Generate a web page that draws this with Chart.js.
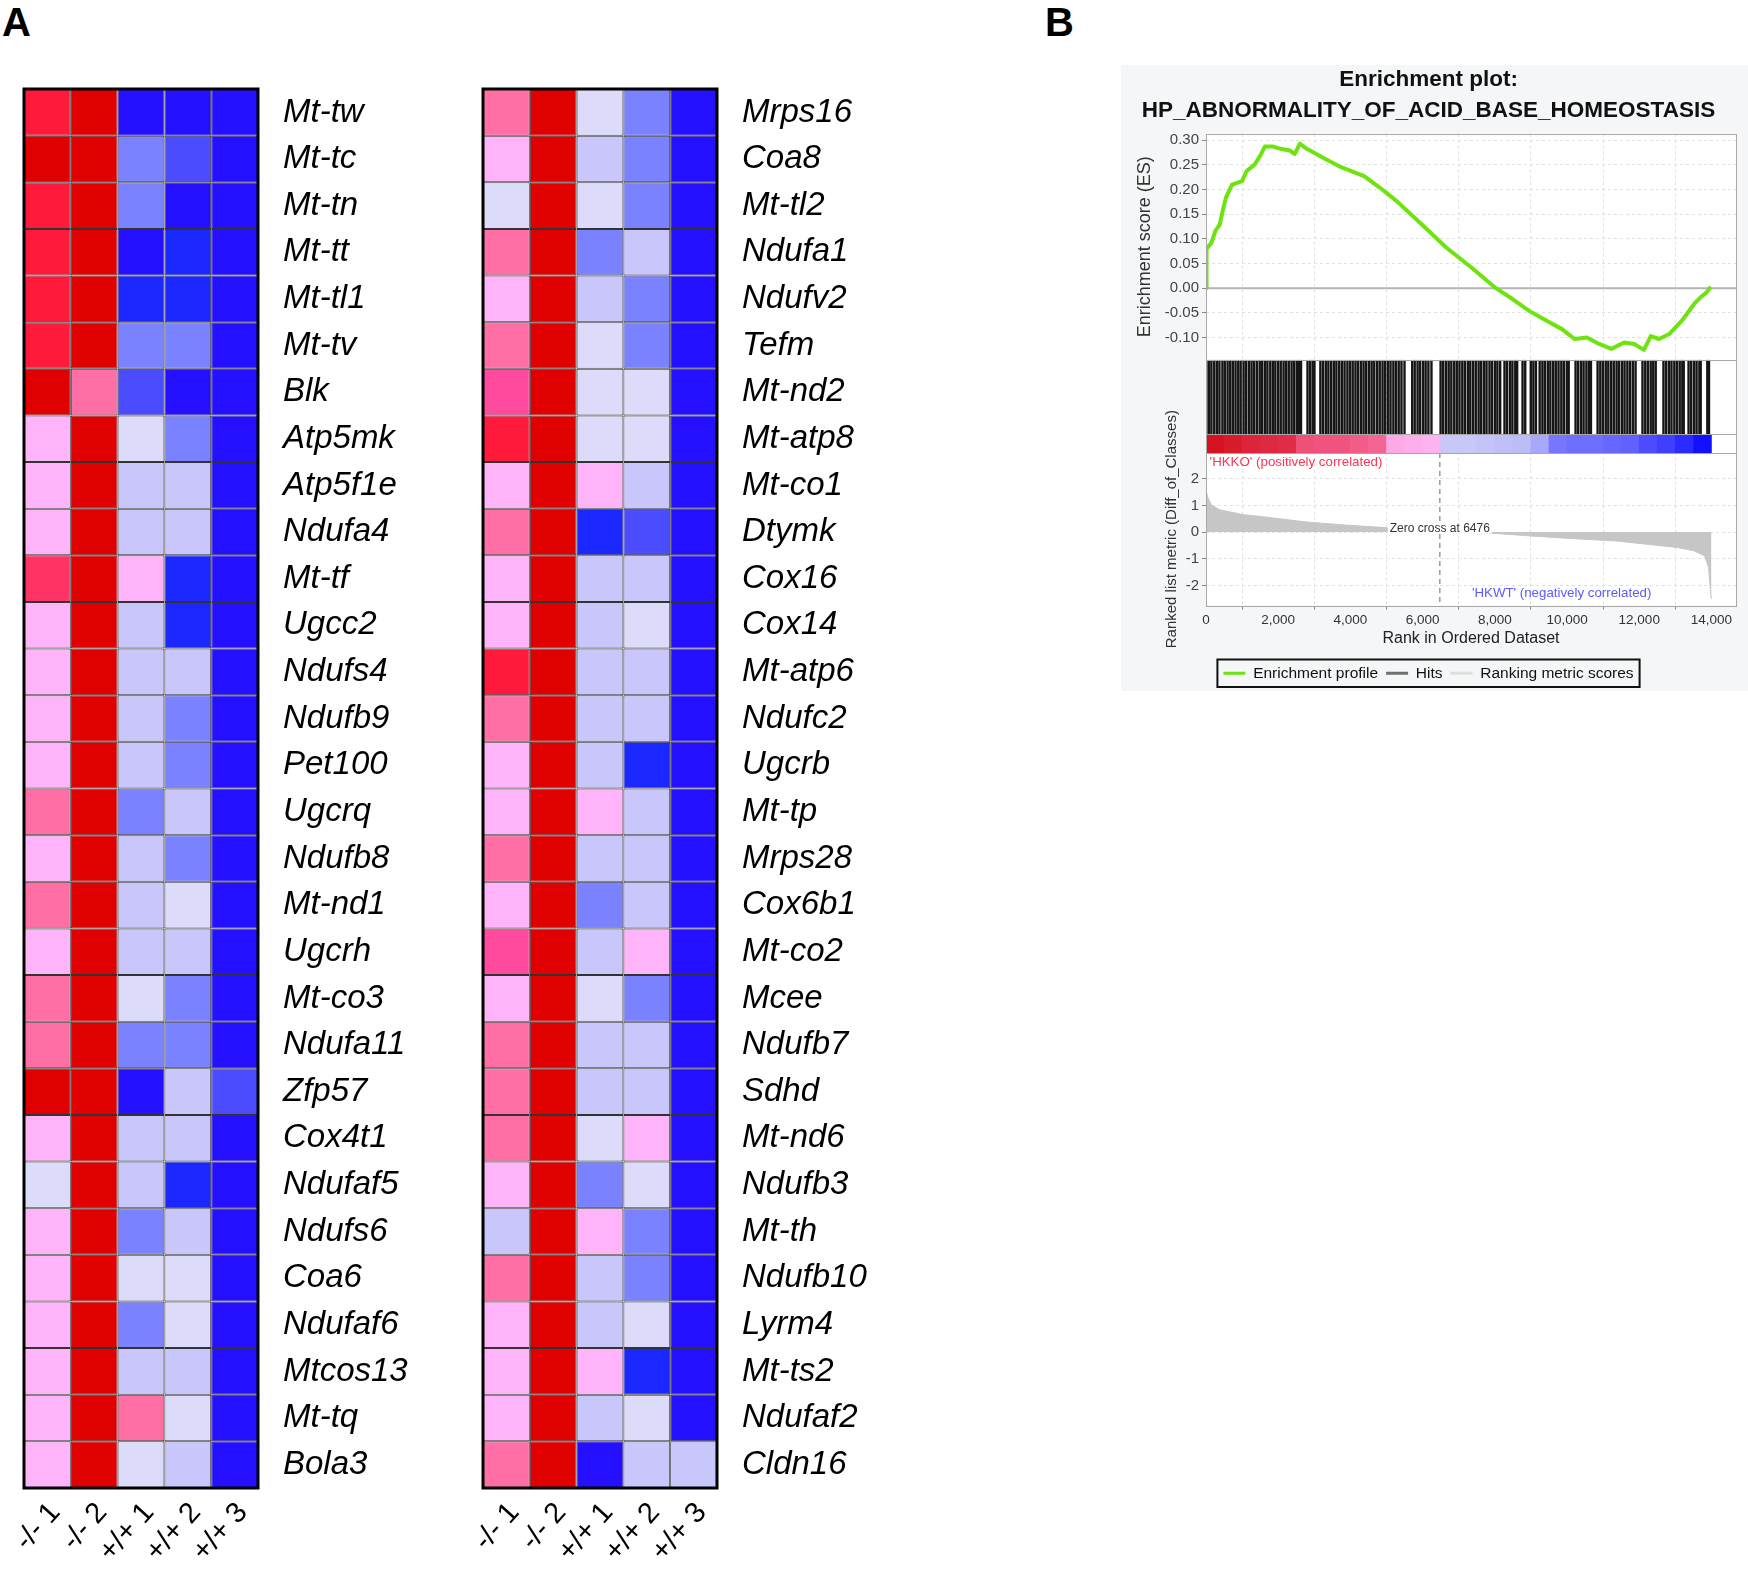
<!DOCTYPE html>
<html lang="en">
<head>
<meta charset="utf-8"/>
<meta name="viewport" content="width=device-width, initial-scale=1">
<title>Heatmap and enrichment plot</title>
<script src="https://cdn.jsdelivr.net/npm/chart.js"></script>
<style>
  body { margin: 0; background: #fff; font-family: 'Liberation Sans', Arial, sans-serif; }
  .page { position: relative; width: 1748px; height: 1576px; overflow: hidden; }
  .tag { position: absolute; top: 2px; font-size: 40px; line-height: 1; font-weight: bold; }
  canvas { position: absolute; }
  #heatLeft { left: 0; top: 0; }
  #heatRight { left: 459px; top: 0; }
  #gsea { left: 1121px; top: 65px; background: #f4f6f7; }
</style>
</head>
<body>
<div class="page">
  <div class="tag" style="left:2px">A</div>
  <div class="tag" style="left:1045px">B</div>
  <canvas id="heatLeft" width="455" height="1576"></canvas>
  <canvas id="heatRight" width="470" height="1576"></canvas>
  <canvas id="gsea" width="627" height="626"></canvas>
</div>
<script>
const FONT = "'Liberation Sans', Arial, sans-serif";

// ---- panel A: heatmap data (row z-scores) ----
const sampleLabels = ['-/- 1', '-/- 2', '+/+ 1', '+/+ 2', '+/+ 3'];

const leftGenes = ['Mt-tw', 'Mt-tc', 'Mt-tn', 'Mt-tt', 'Mt-tl1', 'Mt-tv', 'Blk', 'Atp5mk', 'Atp5f1e', 'Ndufa4',
  'Mt-tf', 'Ugcc2', 'Ndufs4', 'Ndufb9', 'Pet100', 'Ugcrq', 'Ndufb8', 'Mt-nd1', 'Ugcrh', 'Mt-co3',
  'Ndufa11', 'Zfp57', 'Cox4t1', 'Ndufaf5', 'Ndufs6', 'Coa6', 'Ndufaf6', 'Mtcos13', 'Mt-tq', 'Bola3'];
const leftKO1 = [2.1, 2.7, 2.2, 2.1, 2.2, 2.0, 2.8, 0.4, 0.3, 0.4, 1.7, 0.3, 0.4, 0.3, 0.4,
  1.0, 0.4, 1.1, 0.3, 1.0, 0.9, 2.9, 0.4, -0.2, 0.3, 0.4, 0.3, 0.4, 0.3, 0.4];
const leftKO2 = [3.1, 2.9, 3.0, 3.0, 2.9, 3.0, 1.0, 2.9, 3.0, 3.1, 2.9, 3.0, 3.0, 2.9, 3.0,
  3.1, 3.0, 2.9, 3.0, 3.0, 2.9, 2.8, 3.0, 3.0, 2.9, 3.0, 3.1, 3.0, 2.9, 3.0];
const leftWT1 = [-2.8, -1.3, -1.4, -2.9, -2.3, -1.3, -1.8, -0.3, -0.7, -0.7, 0.4, -0.8, -0.7, -0.7, -0.8,
  -1.3, -0.7, -0.8, -0.7, -0.3, -1.3, -2.9, -0.7, -0.8, -1.3, -0.3, -1.4, -0.7, 1.0, -0.3];
const leftWT2 = [-2.8, -1.8, -2.8, -2.3, -2.3, -1.3, -2.9, -1.3, -0.7, -0.7, -2.3, -2.4, -0.7, -1.3, -1.3,
  -0.8, -1.3, -0.3, -0.7, -1.3, -1.3, -0.7, -0.8, -2.3, -0.7, -0.3, -0.3, -0.8, -0.3, -0.7];
const leftWT3 = [-3.0, -3.0, -3.0, -3.0, -3.0, -3.0, -3.0, -3.0, -3.0, -3.0, -3.0, -3.0, -3.0, -3.0, -3.0,
  -3.0, -3.0, -3.0, -3.0, -3.0, -3.0, -1.8, -3.0, -3.0, -3.0, -3.0, -3.0, -3.0, -3.0, -3.0];

const rightGenes = ['Mrps16', 'Coa8', 'Mt-tl2', 'Ndufa1', 'Ndufv2', 'Tefm', 'Mt-nd2', 'Mt-atp8', 'Mt-co1', 'Dtymk',
  'Cox16', 'Cox14', 'Mt-atp6', 'Ndufc2', 'Ugcrb', 'Mt-tp', 'Mrps28', 'Cox6b1', 'Mt-co2', 'Mcee',
  'Ndufb7', 'Sdhd', 'Mt-nd6', 'Ndufb3', 'Mt-th', 'Ndufb10', 'Lyrm4', 'Mt-ts2', 'Ndufaf2', 'Cldn16'];
const rightKO1 = [1.0, 0.4, -0.3, 1.0, 0.3, 1.1, 1.4, 2.1, 0.4, 1.0, 0.3, 0.4, 2.0, 1.0, 0.4,
  0.3, 1.0, 0.4, 1.5, 0.4, 1.0, 1.1, 1.0, 0.3, -0.7, 1.0, 0.4, 0.3, 0.4, 1.0];
const rightKO2 = [3.0, 3.1, 2.9, 3.0, 3.0, 2.9, 3.0, 3.1, 3.0, 2.9, 3.0, 3.0, 2.9, 3.0, 3.1,
  3.0, 2.9, 3.0, 3.0, 3.1, 3.0, 2.9, 3.0, 3.0, 3.1, 3.0, 2.9, 3.0, 3.0, 2.9];
const rightWT1 = [-0.3, -0.7, -0.3, -1.3, -0.7, -0.3, -0.3, -0.3, 0.4, -2.3, -0.7, -0.8, -0.7, -0.7, -0.7,
  0.4, -0.7, -1.3, -0.7, -0.3, -0.7, -0.8, -0.3, -1.3, 0.4, -0.7, -0.7, 0.3, -0.7, -2.9];
const rightWT2 = [-1.3, -1.3, -1.3, -0.7, -1.3, -1.3, -0.3, -0.3, -0.7, -1.8, -0.7, -0.3, -0.7, -0.7, -2.3,
  -0.7, -0.7, -0.7, 0.4, -1.3, -0.7, -0.7, 0.4, -0.3, -1.3, -1.3, -0.3, -2.3, -0.3, -0.7];
const rightWT3 = [-3.0, -3.0, -3.0, -3.0, -3.0, -3.0, -3.0, -3.0, -3.0, -3.0, -3.0, -3.0, -3.0, -3.0, -3.0,
  -3.0, -3.0, -3.0, -3.0, -3.0, -3.0, -3.0, -3.0, -3.0, -3.0, -3.0, -3.0, -3.0, -3.0, -0.7];

// ---- panel B: GSEA running score, hits and ranked list ----
const esRank = [0, 15, 150, 260, 380, 470, 550, 720, 1000, 1120, 1350, 1520, 1630, 1860, 2090, 2320, 2460, 2600,
  2780, 3230, 3690, 4380, 4830, 5290, 5980, 6660, 7350, 8030, 8490, 8950, 9410, 9860, 10210, 10550, 10890,
  11230, 11580, 11860, 12130, 12320, 12550, 12830, 13180, 13520, 13690, 13860, 13980];
const esScore = [0, 0.08, 0.092, 0.116, 0.129, 0.159, 0.183, 0.21, 0.217, 0.237, 0.251, 0.271, 0.287, 0.287,
  0.282, 0.279, 0.272, 0.293, 0.283, 0.265, 0.247, 0.227, 0.203, 0.176, 0.129, 0.082, 0.042, 0.0, -0.022,
  -0.046, -0.065, -0.083, -0.103, -0.1, -0.113, -0.123, -0.11, -0.113, -0.125, -0.097, -0.103, -0.093,
  -0.066, -0.032, -0.019, -0.009, 0.003];

// rank of each gene-set member in the ordered list
const hitRanks = [12, 85, 150, 228, 301, 372, 455, 520, 598, 671, 742, 818, 893, 960, 1041, 1112, 1190,
  1262, 1335, 1411, 1488, 1555, 1633, 1701, 1780, 1852, 1921, 1999, 2070, 2148, 2219, 2292, 2370, 2441,
  2515, 2580, 2632, 2812, 2884, 2955, 3004, 3168, 3240, 3318, 3390, 3466, 3541, 3612, 3690, 3764, 3838,
  3917, 3990, 4063, 4140, 4212, 4290, 4364, 4437, 4515, 4588, 4660, 4741, 4812, 4890, 4963, 5040, 5111,
  5190, 5262, 5338, 5414, 5498, 5712, 5781, 5860, 5930, 6012, 6083, 6160, 6245, 6498, 6570, 6648, 6722,
  6795, 6874, 6946, 7021, 7099, 7170, 7252, 7320, 7398, 7472, 7551, 7622, 7701, 7770, 7852, 7921, 8003,
  8071, 8148, 8268, 8336, 8418, 8487, 8566, 8618, 8768, 8842, 8996, 9068, 9138, 9242, 9318, 9386, 9467,
  9538, 9617, 9688, 9764, 9842, 9911, 9993, 10046, 10236, 10308, 10387, 10458, 10537, 10608, 10662,
  10846, 10921, 10993, 11072, 11143, 11221, 11294, 11372, 11441, 11522, 11593, 11671, 11744, 11822,
  11898, 12090, 12166, 12238, 12317, 12388, 12456, 12671, 12744, 12822, 12893, 12972, 13044, 13121,
  13193, 13232, 13366, 13438, 13517, 13588, 13666, 13702, 13886, 13932];

const metricRank = [0, 60, 150, 380, 720, 1060, 1630, 1980, 2780, 3920, 5060, 5980, 6476, 8030, 9060, 9980,
  11350, 12260, 13060, 13520, 13810, 13920, 13980, 14000];
const metricValue = [1.55, 1.27, 1.02, 0.84, 0.74, 0.65, 0.57, 0.51, 0.38, 0.26, 0.16, 0.07, 0, -0.05, -0.15,
  -0.23, -0.33, -0.46, -0.58, -0.70, -0.89, -1.32, -2.31, -2.5];

// colour strip under the hits: ranked-list bins of 500 and their level
const stripBin = [250, 750, 1250, 1750, 2250, 2750, 3250, 3750, 4250, 4750, 5250, 5750, 6250, 6750,
  7250, 7750, 8250, 8750, 9250, 9750, 10250, 10750, 11250, 11750, 12250, 12750, 13250, 13750];
const stripLevel = [3, 2.8, 2.6, 2.5, 2.4, 1.6, 1.5, 1.5, 1.4, 1.3, 0.5, 0.45, 0.4, -0.4, -0.4, -0.45,
  -0.5, -0.55, -0.8, -1.4, -1.5, -1.5, -1.6, -1.7, -2.0, -2.2, -2.5, -2.9];

const zeroCross = 6476;

// axis ticks
const rankTicks = [0, 2000, 4000, 6000, 8000, 10000, 12000, 14000];
const esTicks = [-0.10, -0.05, 0.00, 0.05, 0.10, 0.15, 0.20, 0.25, 0.30];
const metricTicks = [-2, -1, 0, 1, 2];

function heatColor(v) {
  if (v >= 2.5) return '#e00000';
  if (v >= 1.9) return '#ff1a3c';
  if (v >= 1.6) return '#ff3366';
  if (v >= 1.3) return '#ff4a9e';
  if (v >= 0.8) return '#ff6ea4';
  if (v >= 0) return '#ffb4fa';
  if (v >= -0.5) return '#dcdcfa';
  if (v >= -1) return '#c8c6fa';
  if (v >= -1.6) return '#7b82ff';
  if (v >= -2) return '#4c4cff';
  if (v >= -2.6) return '#1a28ff';
  return '#2410ff';
}

function stripColor(v) {
  const stops = [[-3, [10, 10, 255]], [-1.5, [110, 110, 255]], [-0.4, [200, 200, 248]],
    [0.4, [255, 178, 240]], [1.5, [240, 84, 126]], [3, [214, 18, 34]]];
  if (v <= stops[0][0]) return 'rgb(' + stops[0][1].join(',') + ')';
  for (let i = 1; i < stops.length; i++) {
    if (v <= stops[i][0]) {
      const [a, ca] = stops[i - 1], [b, cb] = stops[i];
      const t = (v - a) / (b - a);
      return 'rgb(' + ca.map((c, k) => Math.round(c + (cb[k] - c) * t)).join(',') + ')';
    }
  }
  return 'rgb(' + stops[stops.length - 1][1].join(',') + ')';
}

const heatFrame = {
  id: 'heatFrame',
  afterDatasetsDraw(chart) {
    const {ctx, chartArea: a} = chart;
    ctx.save();
    ctx.strokeStyle = '#000';
    ctx.lineWidth = 3;
    ctx.strokeRect(a.left, a.top, a.right - a.left, a.bottom - a.top);
    ctx.restore();
  }
};

function makeHeatmap(id, genes, columns, yWidth) {
  return new Chart(document.getElementById(id), {
    type: 'bar',
    data: {
      labels: genes,
      datasets: columns.map((vals, j) => ({
        label: sampleLabels[j],
        data: vals.map(() => 1),
        backgroundColor: vals.map(heatColor),
        borderColor: '#333',
        borderWidth: 1,
        borderSkipped: false,
        inflateAmount: 0,
        barPercentage: 1,
        categoryPercentage: 1
      }))
    },
    options: {
      indexAxis: 'y',
      responsive: false,
      animation: false,
      layout: { padding: { left: 24, top: 89, right: 0, bottom: 0 } },
      plugins: { legend: { display: false }, tooltip: { enabled: false } },
      scales: {
        x: { type: 'linear', stacked: true, min: 0, max: 5, display: false },
        cols: {
          axis: 'x', type: 'category', labels: sampleLabels, position: 'bottom', offset: true,
          grid: { display: false, drawTicks: false }, border: { display: false },
          ticks: { autoSkip: false, minRotation: 48, maxRotation: 48, padding: 8, labelOffset: 8, color: '#000',
            font: { family: FONT, size: 29 } },
          afterFit: s => { s.height = 88; }
        },
        y: {
          position: 'right', stacked: true,
          grid: { display: false, drawTicks: false }, border: { display: false },
          ticks: { autoSkip: false, padding: 25, color: '#000', font: { family: FONT, size: 33, style: 'italic' } },
          afterFit: s => { s.width = yWidth; }
        }
      }
    },
    plugins: [heatFrame]
  });
}

makeHeatmap('heatLeft', leftGenes, [leftKO1, leftKO2, leftWT1, leftWT2, leftWT3], 197);
makeHeatmap('heatRight', rightGenes, [rightKO1, rightKO2, rightWT1, rightWT2, rightWT3], 212);

// ---- panel B ----
const legendStyle = {
  'Enrichment profile': '#6ee30f',
  'Hits': '#707070',
  'Ranking metric scores': '#dedede'
};

const gseaDecor = {
  id: 'gseaDecor',
  beforeDraw(chart) {
    const {ctx, chartArea: a} = chart;
    ctx.save();
    ctx.fillStyle = '#fff';
    ctx.fillRect(a.left, a.top, a.right - a.left, a.bottom - a.top);
    ctx.restore();
  },
  beforeDatasetsDraw(chart) {
    const {ctx, chartArea: a, scales} = chart;
    const y0 = scales.yES.getPixelForValue(0);
    ctx.save();
    ctx.strokeStyle = '#b4b4b4';
    ctx.lineWidth = 2;
    ctx.beginPath();
    ctx.moveTo(a.left, y0);
    ctx.lineTo(a.right, y0);
    ctx.stroke();
    ctx.restore();
  },
  afterDatasetsDraw(chart) {
    const {ctx, chartArea: a, scales} = chart;
    const x = scales.x, yr = scales.yRank;
    ctx.save();
    // band separators and frame
    ctx.strokeStyle = '#a8a8a8';
    ctx.lineWidth = 1;
    [scales.yES.bottom, scales.yHits.bottom, scales.yBar.bottom].forEach(yy => {
      ctx.beginPath();
      ctx.moveTo(a.left, Math.round(yy) + 0.5);
      ctx.lineTo(a.right, Math.round(yy) + 0.5);
      ctx.stroke();
    });
    ctx.strokeRect(Math.round(a.left) + 0.5, Math.round(a.top) + 0.5, Math.round(a.right - a.left), Math.round(a.bottom - a.top));

    // zero cross label
    ctx.font = '12px ' + FONT;
    ctx.textBaseline = 'middle';
    ctx.textAlign = 'center';
    const zx = x.getPixelForValue(zeroCross), zy = yr.getPixelForValue(0.12);
    const zt = 'Zero cross at ' + zeroCross;
    const zw = ctx.measureText(zt).width;
    ctx.fillStyle = '#fff';
    ctx.fillRect(zx - zw / 2 - 2, zy - 7, zw + 4, yr.getPixelForValue(-0.06) - zy + 7);
    ctx.fillStyle = '#333';
    ctx.fillText(zt, zx, zy);

    // class labels
    ctx.font = '13.3px ' + FONT;
    ctx.textAlign = 'left';
    ctx.fillStyle = '#ff3355';
    ctx.fillText("'HKKO' (positively correlated)", x.getPixelForValue(100), yr.getPixelForValue(2.63));
    ctx.textAlign = 'center';
    ctx.fillStyle = '#5a5aff';
    ctx.fillText("'HKWT' (negatively correlated)", x.getPixelForValue(9850), yr.getPixelForValue(-2.3));

    ctx.restore();
  },
  afterDraw(chart) {
    const hb = chart.legend && chart.legend.legendHitBoxes;
    if (!hb || !hb.length) return;
    const {ctx} = chart;
    const l = Math.min(...hb.map(b => b.left)) - 6;
    const r = Math.max(...hb.map(b => b.left + b.width)) + 6;
    const t = Math.min(...hb.map(b => b.top)) - 6;
    const btm = Math.max(...hb.map(b => b.top + b.height)) + 6;
    ctx.save();
    ctx.strokeStyle = '#111';
    ctx.lineWidth = 2;
    ctx.strokeRect(l, t, r - l, btm - t);
    ctx.restore();
  }
};

const tickFont = { family: FONT, size: 15 };
const gridDash = { display: false, dash: [3, 3] };
const fixTicks = list => s => { s.ticks = list.map(v => ({ value: v })); };

new Chart(document.getElementById('gsea'), {
  type: 'bar',
  data: {
    datasets: [
      {
        type: 'line', label: 'Enrichment profile', yAxisID: 'yES', order: 1,
        data: esRank.map((r, i) => ({ x: r, y: esScore[i] })),
        borderColor: '#6ee30f', borderWidth: 4, pointRadius: 0, tension: 0, borderJoinStyle: 'round'
      },
      {
        type: 'line', label: 'Hits', yAxisID: 'yHits', order: 2, showLine: false,
        data: hitRanks.map(r => ({ x: r, y: 0.5 })),
        pointStyle: 'line', pointRotation: 90,
        pointRadius: ctx => ctx.chart.scales.yHits.height / 2,
        pointBorderWidth: 2.4, borderColor: '#161616', pointBorderColor: '#161616'
      },
      {
        type: 'bar', label: 'strip', yAxisID: 'yBar', order: 3,
        data: stripBin.map(r => ({ x: r, y: 1 })),
        backgroundColor: stripLevel.map(stripColor),
        barPercentage: 1, categoryPercentage: 1, borderWidth: 0
      },
      {
        type: 'line', label: 'Ranking metric scores', yAxisID: 'yRank', order: 4,
        data: metricRank.map((r, i) => ({ x: r, y: metricValue[i] })),
        fill: 'origin', backgroundColor: '#c6c6c6', borderColor: '#c6c6c6', borderWidth: 1,
        pointRadius: 0, tension: 0
      },
      {
        type: 'line', label: 'zero', yAxisID: 'yRank', order: 0,
        data: [{ x: zeroCross, y: 2.97 }, { x: zeroCross, y: -2.75 }],
        borderColor: '#9a9a9a', borderWidth: 1.5, borderDash: [5, 4], pointRadius: 0
      }
    ]
  },
  options: {
    responsive: false,
    animation: false,
    layout: { padding: { left: 0, right: 12, top: 0, bottom: 0 } },
    plugins: {
      tooltip: { enabled: false },
      title: {
        display: true,
        text: ['Enrichment plot:', 'HP_ABNORMALITY_OF_ACID_BASE_HOMEOSTASIS'],
        color: '#111',
        font: { family: FONT, size: 22.5, weight: 'bold', lineHeight: 1.35 },
        padding: { top: 0, bottom: 8 }
      },
      legend: {
        position: 'bottom',
        labels: {
          usePointStyle: true, pointStyle: 'line', pointStyleWidth: 22, boxHeight: 10,
          padding: 8, color: '#111', font: { family: FONT, size: 15.5 },
          generateLabels: chart => Chart.defaults.plugins.legend.labels.generateLabels(chart).map(it =>
            Object.assign(it, { pointStyle: 'line', rotation: 0, lineWidth: 3, strokeStyle: legendStyle[it.text] || '#000' })),
          filter: it => it.text in legendStyle
        }
      }
    },
    scales: {
      x: {
        type: 'linear', min: 0, max: 14680, offset: false,
        grid: { color: '#e0e0e0', tickLength: 4, tickColor: '#888' },
        border: gridDash,
        afterBuildTicks: fixTicks(rankTicks),
        ticks: { autoSkip: false, padding: 3, color: '#333',
          font: { family: FONT, size: 13.5 }, maxRotation: 0,
          callback: v => v.toLocaleString('en-US') },
        title: { display: true, text: 'Rank in Ordered Dataset', color: '#222',
          font: { family: FONT, size: 16 }, padding: { top: 2, bottom: 9 } },
        afterFit: s => { s.height = 52; }
      },
      // left-stacked axes are laid out bottom-up, so the bottom band comes first
      yRank: {
        type: 'linear', position: 'left', stack: 'gsea', stackWeight: 154, offset: false,
        min: -2.75, max: 2.97,
        grid: { color: '#e0e0e0', tickLength: 4, tickColor: '#888' },
        border: gridDash,
        afterBuildTicks: fixTicks(metricTicks),
        ticks: { autoSkip: false, padding: 3, color: '#444', font: tickFont },
        title: { display: true, text: 'Ranked list metric (Diff_of_Classes)', color: '#333',
          font: { family: FONT, size: 15 }, padding: { top: 42, bottom: 0 } },
        afterFit: s => { s.width = 85; }
      },
      yBar: {
        type: 'linear', position: 'left', stack: 'gsea', stackWeight: 19, offset: false, min: 0, max: 1,
        grid: { display: false }, border: { display: false }, ticks: { display: false },
        afterFit: s => { s.width = 85; }
      },
      yHits: {
        type: 'linear', position: 'left', stack: 'gsea', stackWeight: 75, offset: false, min: 0, max: 1,
        grid: { display: false }, border: { display: false }, ticks: { display: false },
        afterFit: s => { s.width = 85; }
      },
      yES: {
        type: 'linear', position: 'left', stack: 'gsea', stackWeight: 228, offset: false,
        min: -0.145, max: 0.313,
        grid: { color: '#e0e0e0', tickLength: 4, tickColor: '#888' },
        border: gridDash,
        afterBuildTicks: fixTicks(esTicks),
        ticks: { autoSkip: false, padding: 3, color: '#444', font: tickFont,
          callback: v => v.toFixed(2) },
        title: { display: true, text: 'Enrichment score (ES)', color: '#333',
          font: { family: FONT, size: 18 }, padding: { top: 13, bottom: 0 } },
        afterFit: s => { s.width = 85; }
      }
    }
  },
  plugins: [gseaDecor]
});
</script>
</body>
</html>
